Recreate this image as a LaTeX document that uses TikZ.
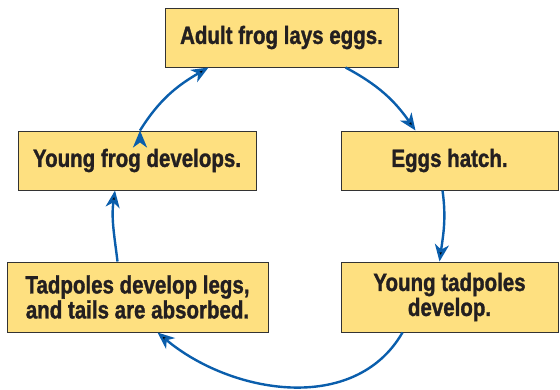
\documentclass[tikz,border=0pt]{standalone}
\usepackage{fontspec}
\newfontfamily\stagefont{Liberation Sans}[FakeStretch=0.82,BoldFeatures={FakeBold=1.2}]
\usepackage{tikz}
\usetikzlibrary{arrows.meta}
\usetikzlibrary{calc}

\definecolor{stageyellow}{RGB}{254,224,128}
\definecolor{stageedge}{RGB}{51,51,51}
\definecolor{stagetext}{RGB}{35,31,32}
\definecolor{cycleblue}{RGB}{10,94,172}

\begin{document}
\begin{tikzpicture}[x=1pt,y=-1pt,>={Stealth[length=17pt,width=14pt,inset=5pt]},
        stage/.style={rectangle,fill=stageyellow,draw=stageedge,line width=1pt,align=center,minimum height=59pt,inner sep=0pt,text=stagetext,font=\stagefont\bfseries\fontsize{25}{25}\selectfont},
        cycle/.style={->,draw=cycleblue,line width=2.4pt}]

        \useasboundingbox (0,0) rectangle (560,389);

        \node[stage,minimum width=233pt] (adult) at (281.5,37.5) {Adult frog lays eggs.};
        \node[stage,minimum width=217pt] (hatch) at (449.5,160.5) {Eggs hatch.};
        \node[stage,minimum width=238pt] (frog) at (137,160.5) {Young frog develops.};
        \node[stage,minimum width=261pt,minimum height=70pt] (legs) at (137.5,297) {Tadpoles develop legs,\\and tails are absorbed.};
        \node[stage,minimum width=217pt,minimum height=70pt] (tadpole) at (449.5,297) {Young tadpoles\\develop.};

        \path[cycle]
        ([xshift=-53pt]adult.south east) edge [out=-28,in=125] ([xshift=75pt]hatch.north west)
        ([xshift=-7pt]hatch.south) edge [out=-82,in=82] ([xshift=-10pt]tadpole.north)
        ([xshift=62pt]tadpole.south west) edge [out=-120,in=-40] ([xshift=20pt]legs.south)
        ([xshift=-20pt]legs.north) edge [out=97,in=-98] ([xshift=-22pt]frog.south)
        ([xshift=3pt]frog.north) edge [out=58,in=-150] ([xshift=44pt]adult.south west);

\end{tikzpicture}
\end{document}
